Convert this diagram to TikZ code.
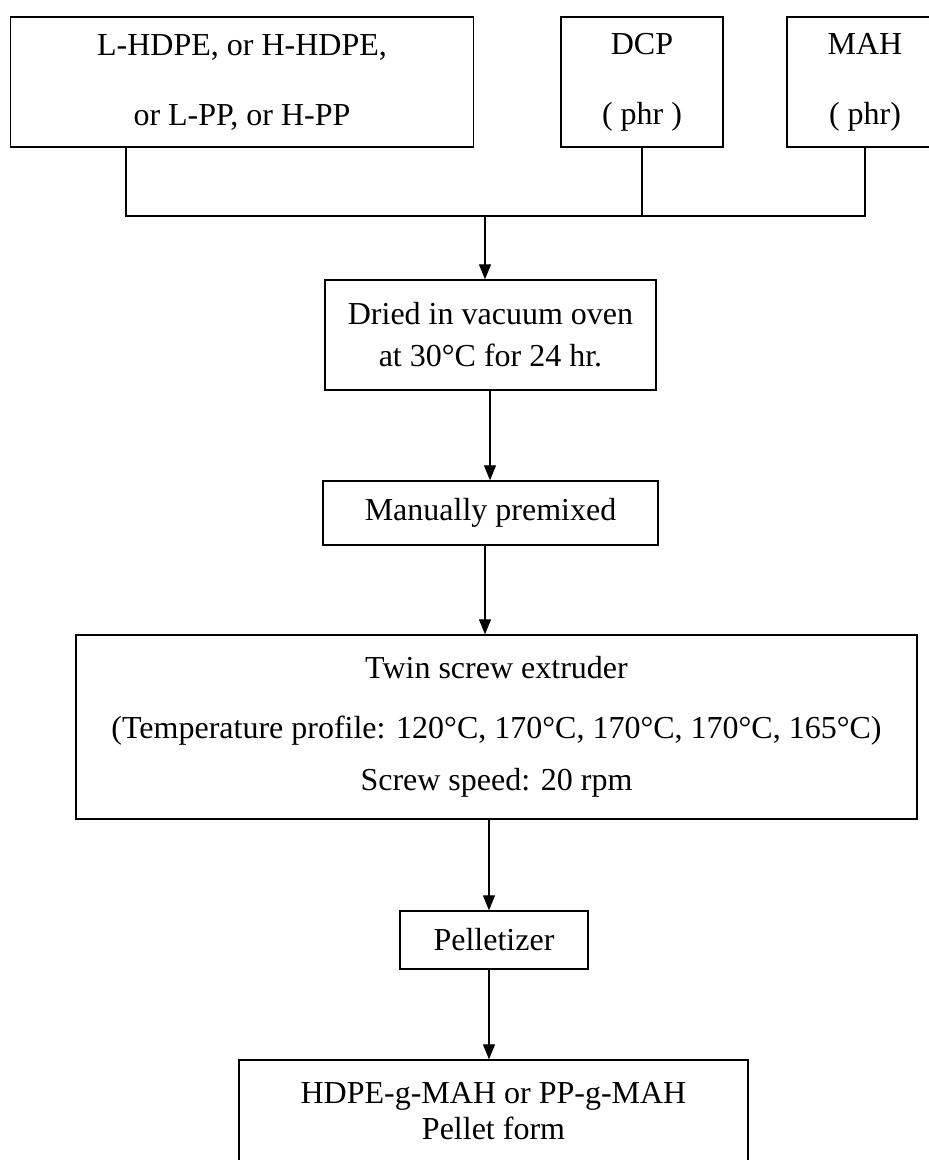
\documentclass[tikz,border=0pt]{standalone}
\usepackage{fontspec}
\setmainfont{Liberation Serif}
\usetikzlibrary{arrows.meta}
\begin{document}
\begin{tikzpicture}[x=1pt,y=-1pt,
  box/.style={draw, line width=1.4pt, inner sep=0pt, align=center, font=\fontsize{32}{38.4}\selectfont},
  link/.style={line width=1.3pt},
  arr/.style={line width=1.3pt, -{Triangle[length=15pt,width=12pt]}}]
\clip (0,0) rectangle (929,1160);
\fill[white] (0,0) rectangle (929,1160);
\node[box, minimum width=463pt, minimum height=130pt] (src) at (242,82) {L-HDPE, or H-HDPE,\\[31.6pt]or L-PP, or H-PP};
\node[box, minimum width=162pt, minimum height=130pt] (dcp) at (642,82) {DCP\\[31.6pt]( phr )};
\node[box, minimum width=156pt, minimum height=130pt] (mah) at (865,82) {MAH\\[31.6pt]( phr)};
\node[box, minimum width=331pt, minimum height=110pt] (dried) at (490.5,335) {Dried in vacuum oven\\[3.6pt]at 30°C for 24 hr.};
\node[box, minimum width=335pt, minimum height=64pt] (mix) at (490.5,513) {Manually premixed};
\node[box, minimum width=841pt, minimum height=184pt] (twin) at (496.5,727) {Twin screw extruder\\[21.6pt](Temperature profile: 120°C, 170°C, 170°C, 170°C, 165°C)\\[13.6pt]Screw speed: 20 rpm};
\node[box, minimum width=188pt, minimum height=58pt] (pel) at (494,940) {Pelletizer};
\node[box, minimum width=509pt, minimum height=102pt] (prod) at (493.5,1111) {HDPE-g-MAH or PP-g-MAH\\[-2.4pt]Pellet form};
\coordinate (busL) at (126,216);
\coordinate (bus) at (485,216);
\coordinate (busR) at (865,216);
\coordinate (c1) at (490,0);
\coordinate (c2) at (485,0);
\coordinate (c3) at (489,0);
\draw[link] (src.south -| busL) -- (busL) -- (busR) -- (mah.south);
\draw[link] (dcp.south) -- (dcp.south |- bus);
\draw[arr] (bus) -- (dried.north -| bus);
\draw[arr] (dried.south -| c1) -- (mix.north -| c1);
\draw[arr] (mix.south -| c2) -- (twin.north -| c2);
\draw[arr] (twin.south -| c3) -- (pel.north -| c3);
\draw[arr] (pel.south -| c3) -- (prod.north -| c3);
\end{tikzpicture}
\end{document}
